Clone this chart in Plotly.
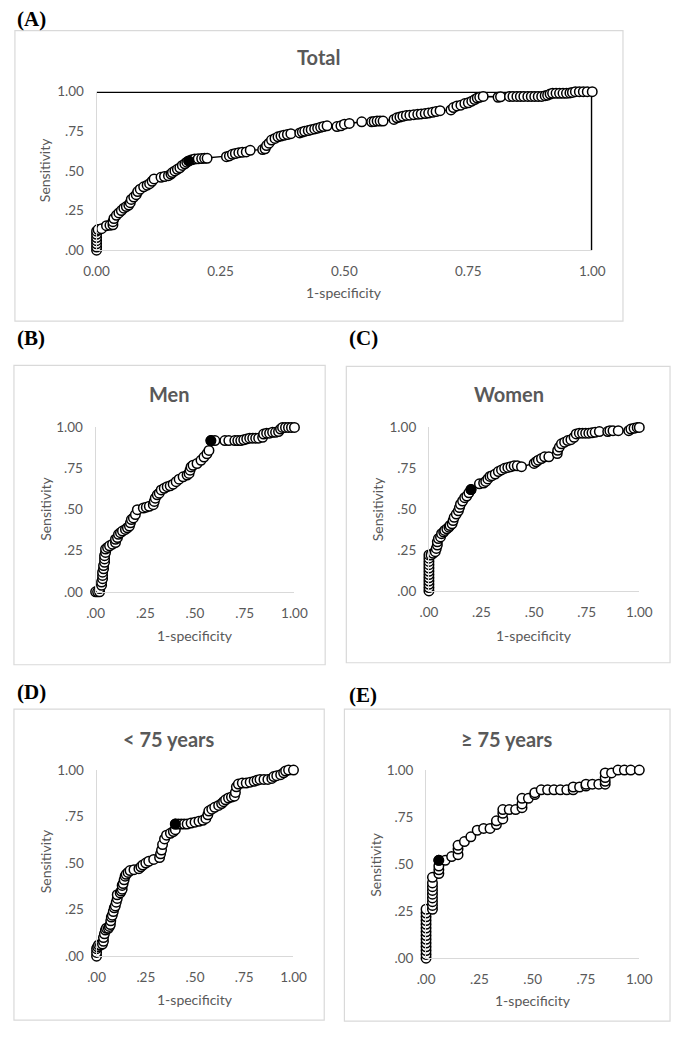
import plotly.graph_objects as go

# ---------------- data ----------------
total_roc = [(0,0),(0,0.02),(0,0.04),(0,0.06),(0,0.08),(0,0.1),(0,0.12),(0.003,0.13),
 (0.01,0.136),(0.02,0.155),(0.027,0.157),(0.033,0.16),(0.033,0.18),(0.035,0.2),(0.04,0.22),(0.045,0.235),
 (0.05,0.25),(0.055,0.265),(0.06,0.275),(0.065,0.285),(0.068,0.3),(0.07,0.32),(0.075,0.335),(0.08,0.35),
 (0.083,0.37),(0.088,0.385),(0.095,0.4),(0.102,0.41),(0.107,0.42),(0.112,0.435),(0.116,0.45),(0.13,0.46),
 (0.137,0.465),(0.145,0.47),(0.15,0.48),(0.153,0.49),(0.158,0.5),(0.163,0.51),(0.168,0.52),(0.173,0.535),
 (0.178,0.545),(0.182,0.555),(0.186,0.563),(0.192,0.57),(0.198,0.575),(0.205,0.577),(0.212,0.578),(0.218,0.58),
 (0.223,0.58),(0.262,0.59),(0.268,0.595),(0.274,0.605),(0.28,0.61),(0.287,0.615),(0.294,0.618),(0.302,0.62),
 (0.31,0.63),(0.335,0.635),(0.34,0.64),(0.343,0.66),(0.348,0.675),(0.353,0.695),(0.36,0.705),(0.366,0.715),
 (0.372,0.72),(0.378,0.725),(0.385,0.73),(0.392,0.735),(0.41,0.74),(0.415,0.745),(0.42,0.75),(0.427,0.755),
 (0.433,0.76),(0.44,0.765),(0.446,0.77),(0.452,0.775),(0.458,0.78),(0.465,0.785),(0.485,0.78),(0.493,0.785),
 (0.5,0.795),(0.51,0.8),(0.535,0.81),(0.555,0.81),(0.56,0.812),(0.566,0.815),(0.572,0.815),(0.578,0.815),
 (0.6,0.825),(0.606,0.835),(0.612,0.84),(0.618,0.845),(0.625,0.85),(0.632,0.852),(0.64,0.855),(0.648,0.857),
 (0.655,0.86),(0.663,0.862),(0.67,0.865),(0.678,0.87),(0.685,0.875),(0.693,0.88),(0.715,0.885),(0.72,0.9),
 (0.727,0.91),(0.735,0.915),(0.743,0.925),(0.75,0.93),(0.757,0.94),(0.763,0.95),(0.768,0.96),(0.773,0.965),
 (0.78,0.97),(0.81,0.965),(0.815,0.968),(0.833,0.97),(0.84,0.97),(0.848,0.97),(0.855,0.97),(0.862,0.97),
 (0.87,0.97),(0.877,0.97),(0.884,0.97),(0.891,0.97),(0.898,0.97),(0.905,0.975),(0.91,0.978),(0.915,0.985),
 (0.92,0.99),(0.927,0.99),(0.934,0.99),(0.941,0.99),(0.948,0.99),(0.955,0.992),(0.96,0.995),(0.966,1.0),
 (0.974,1.0),(0.982,1.0),(0.99,1.0),(1.0,1.0)]
total_cut = (0.186, 0.563)
total_ref_x = [0, 1, 1]
total_ref_y = [1, 1, 0]

men_roc = [(0,0),(0.01,0),(0.02,0),(0.02,0.02),(0.03,0.04),(0.03,0.06),(0.035,0.08),(0.035,0.1),(0.035,0.12),
 (0.04,0.14),(0.04,0.16),(0.045,0.18),(0.045,0.2),(0.045,0.22),(0.05,0.24),(0.05,0.26),(0.06,0.27),(0.07,0.28),
 (0.085,0.29),(0.1,0.3),(0.1,0.32),(0.11,0.33),(0.115,0.35),(0.125,0.36),(0.135,0.37),(0.15,0.38),(0.16,0.39),
 (0.17,0.4),(0.175,0.42),(0.18,0.44),(0.19,0.45),(0.2,0.47),(0.21,0.5),(0.24,0.51),(0.255,0.515),(0.27,0.52),
 (0.29,0.53),(0.295,0.55),(0.3,0.57),(0.31,0.59),(0.32,0.6),(0.33,0.62),(0.345,0.63),(0.36,0.64),(0.375,0.645),
 (0.39,0.655),(0.405,0.67),(0.42,0.685),(0.44,0.7),(0.46,0.71),(0.47,0.72),(0.475,0.74),(0.48,0.76),(0.49,0.77),
 (0.51,0.78),(0.53,0.8),(0.545,0.82),(0.56,0.84),(0.57,0.86),(0.58,0.92),(0.6,0.92),(0.65,0.92),(0.67,0.92),
 (0.7,0.92),(0.715,0.92),(0.73,0.92),(0.745,0.925),(0.76,0.93),(0.775,0.935),(0.79,0.935),(0.805,0.935),
 (0.82,0.935),(0.84,0.94),(0.845,0.96),(0.86,0.965),(0.875,0.965),(0.89,0.97),(0.905,0.97),(0.92,0.975),
 (0.93,0.99),(0.94,1.0),(0.955,1.0),(0.97,1.0),(0.985,1.0),(1.0,1.0)]
men_cut = (0.58, 0.92)

women_roc = [(0,0),(0,0.02),(0,0.04),(0,0.06),(0,0.08),(0,0.1),(0,0.12),(0,0.14),(0,0.16),(0,0.18),(0,0.2),
 (0,0.22),(0.01,0.22),(0.02,0.23),(0.03,0.24),(0.035,0.26),(0.04,0.28),(0.04,0.3),(0.045,0.32),(0.055,0.33),
 (0.06,0.35),(0.07,0.36),(0.075,0.37),(0.085,0.38),(0.095,0.39),(0.1,0.4),(0.11,0.41),(0.115,0.43),(0.12,0.45),
 (0.13,0.47),(0.14,0.49),(0.145,0.51),(0.15,0.53),(0.16,0.55),(0.17,0.57),(0.18,0.58),(0.19,0.6),(0.2,0.62),
 (0.24,0.655),(0.26,0.66),(0.27,0.67),(0.28,0.685),(0.29,0.7),(0.3,0.705),(0.315,0.715),(0.33,0.73),(0.345,0.74),
 (0.36,0.75),(0.375,0.755),(0.39,0.76),(0.405,0.765),(0.42,0.765),(0.44,0.76),(0.5,0.78),(0.51,0.79),(0.52,0.8),
 (0.535,0.81),(0.55,0.82),(0.57,0.82),(0.61,0.84),(0.612,0.86),(0.62,0.88),(0.63,0.9),(0.645,0.91),(0.66,0.92),
 (0.675,0.925),(0.69,0.94),(0.7,0.96),(0.715,0.965),(0.73,0.965),(0.745,0.965),(0.76,0.965),(0.775,0.967),
 (0.79,0.97),(0.81,0.975),(0.85,0.975),(0.86,0.98),(0.875,0.98),(0.9,0.98),(0.95,0.98),(0.96,0.99),
 (0.975,0.995),(0.99,1.0),(1.0,1.0)]
women_cut = (0.2, 0.62)

young_roc = [(0,0),(0,0.02),(0,0.04),(0.005,0.05),(0.01,0.06),(0.02,0.06),(0.03,0.065),(0.035,0.08),(0.035,0.1),
 (0.04,0.12),(0.045,0.14),(0.05,0.15),(0.06,0.15),(0.065,0.16),(0.07,0.17),(0.072,0.19),(0.075,0.21),(0.08,0.22),
 (0.085,0.24),(0.09,0.26),(0.095,0.27),(0.1,0.29),(0.105,0.31),(0.105,0.33),(0.12,0.34),(0.125,0.35),(0.13,0.36),
 (0.13,0.38),(0.135,0.39),(0.14,0.41),(0.145,0.43),(0.15,0.44),(0.16,0.45),(0.17,0.46),(0.19,0.465),(0.215,0.47),
 (0.225,0.48),(0.235,0.49),(0.25,0.5),(0.265,0.51),(0.29,0.52),(0.32,0.53),(0.325,0.55),(0.33,0.57),(0.335,0.6),
 (0.345,0.63),(0.355,0.65),(0.375,0.66),(0.39,0.67),(0.4,0.68),(0.4,0.71),(0.415,0.71),(0.43,0.71),(0.445,0.71),
 (0.46,0.71),(0.48,0.715),(0.5,0.72),(0.52,0.725),(0.54,0.73),(0.555,0.74),(0.565,0.76),(0.57,0.78),(0.585,0.79),
 (0.6,0.8),(0.62,0.81),(0.635,0.82),(0.645,0.83),(0.655,0.84),(0.67,0.85),(0.685,0.855),(0.7,0.86),(0.705,0.88),
 (0.71,0.91),(0.72,0.925),(0.74,0.93),(0.76,0.93),(0.78,0.935),(0.8,0.94),(0.815,0.945),(0.83,0.95),(0.85,0.95),
 (0.87,0.95),(0.89,0.955),(0.9,0.965),(0.915,0.97),(0.935,0.975),(0.95,0.985),(0.96,0.995),(0.975,1.0),(1.0,1.0)]
young_cut = (0.4, 0.71)

old_roc = [(0,0),(0,0.02),(0,0.04),(0,0.06),(0,0.08),(0,0.1),(0,0.12),(0,0.14),(0,0.16),(0,0.18),(0,0.2),
 (0,0.22),(0,0.24),(0,0.26),(0.03,0.26),(0.03,0.28),(0.03,0.3),(0.03,0.32),(0.03,0.34),(0.03,0.36),(0.03,0.38),
 (0.03,0.4),(0.03,0.43),(0.06,0.45),(0.06,0.47),(0.06,0.49),(0.06,0.52),(0.09,0.52),(0.12,0.54),(0.15,0.55),
 (0.15,0.58),(0.15,0.6),(0.18,0.62),(0.21,0.645),(0.24,0.68),(0.27,0.69),(0.3,0.69),(0.33,0.71),(0.33,0.73),
 (0.36,0.74),(0.36,0.77),(0.36,0.79),(0.39,0.79),(0.42,0.79),(0.45,0.8),(0.45,0.82),(0.45,0.85),(0.48,0.85),
 (0.51,0.87),(0.51,0.88),(0.54,0.895),(0.57,0.895),(0.6,0.895),(0.63,0.895),(0.66,0.895),(0.69,0.895),(0.69,0.91),
 (0.72,0.91),(0.75,0.915),(0.75,0.925),(0.78,0.925),(0.81,0.925),(0.84,0.925),(0.84,0.94),(0.84,0.96),
 (0.84,0.985),(0.87,0.985),(0.9,1.0),(0.93,1.0),(0.96,1.0),(1.0,1.0)]
old_cut = (0.06, 0.52)

tick_vals = [0, 0.25, 0.5, 0.75, 1.0]
tick_text_a_x = ["0.00", "0.25", "0.50", "0.75", "1.00"]
tick_text = [".00", ".25", ".50", ".75", "1.00"]

titles = ["Total", "Men", "Women", "< 75 years", "≥ 75 years"]
labels = ["(A)", "(B)", "(C)", "(D)", "(E)"]
x_title = "1-specificity"
y_title = "Sensitivity"

# ---------------- layout geometry (pixels) ----------------
W, H = 685, 1039
def px(x): return x / W
def py(y): return 1 - y / H

panels = [
    dict(roc=total_roc, cut=total_cut, plot=(87, 603, 85, 246), box=(2, 23, 635, 318),
         title=(318, 50), xt=(345, 289), yt=(33, 165), lab=(2, 11), xticks=tick_text_a_x),
    dict(roc=men_roc, cut=men_cut, plot=(86, 293, 426, 593), box=(1, 363, 325, 667),
         title=(163, 392), xt=(189.5, 637), yt=(33, 509), lab=(2, 335), xticks=tick_text),
    dict(roc=women_roc, cut=women_cut, plot=(433, 652, 426, 592), box=(347, 364, 684, 665),
         title=(516, 392), xt=(542.5, 637), yt=(379, 509), lab=(348, 335), xticks=tick_text),
    dict(roc=young_roc, cut=young_cut, plot=(87, 292, 774, 963), box=(1, 712, 324, 1028),
         title=(162, 742), xt=(189.5, 1007), yt=(34, 867), lab=(2, 695), xticks=tick_text),
    dict(roc=old_roc, cut=old_cut, plot=(430, 652, 774, 965), box=(345, 712, 684, 1029),
         title=(514, 742), xt=(541, 1008), yt=(377, 870), lab=(348, 698), xticks=tick_text),
]

GREY = "#595959"
AXIS = "#d9d9d9"
FONT = "Lato"
MSIZE = 9.5

fig = go.Figure()
layout = dict(width=W, height=H, margin=dict(l=0, r=0, t=0, b=0),
              paper_bgcolor="white", plot_bgcolor="white", showlegend=False)
annotations = []
shapes = []

for i, p in enumerate(panels):
    n = "" if i == 0 else str(i + 1)
    xa, ya = "x" + n, "y" + n
    fpr = [v[0] for v in p["roc"]]
    tpr = [v[1] for v in p["roc"]]
    if i == 0:
        fig.add_trace(go.Scatter(x=total_ref_x, y=total_ref_y, mode="lines",
                                 line=dict(color="black", width=2.8), xaxis=xa, yaxis=ya,
                                 cliponaxis=False, hoverinfo="skip"))
    fig.add_trace(go.Scatter(x=fpr, y=tpr, mode="lines+markers", xaxis=xa, yaxis=ya,
                             line=dict(color="black", width=1.4),
                             marker=dict(size=MSIZE, color="white", line=dict(color="black", width=1.5)),
                             cliponaxis=False))
    fig.add_trace(go.Scatter(x=[p["cut"][0]], y=[p["cut"][1]], mode="markers", xaxis=xa, yaxis=ya,
                             marker=dict(size=MSIZE, color="black", line=dict(color="black", width=1.5)),
                             cliponaxis=False))
    x0, x1, yt_, yb_ = p["plot"]
    common = dict(range=[0, 1], showgrid=False, zeroline=False, showline=True, linecolor=AXIS,
                  linewidth=1, ticks="", tickvals=tick_vals, ticklabelstandoff=9,
                  tickfont=dict(family=FONT, size=13.5, color=GREY), fixedrange=True)
    layout["xaxis" + n] = dict(domain=[px(x0), px(x1)], anchor=ya, ticktext=p["xticks"], **common)
    layout["yaxis" + n] = dict(domain=[py(yb_), py(yt_)], anchor=xa, ticktext=tick_text, **common)

    l, t, r, b = p["box"]
    shapes.append(dict(type="rect", xref="paper", yref="paper", x0=px(l), x1=px(r), y0=py(b), y1=py(t),
                       line=dict(color=AXIS, width=1.2), layer="below"))
    annotations.append(dict(text="<b>" + titles[i] + "</b>", x=px(p["title"][0]), y=py(p["title"][1]),
                            xref="paper", yref="paper", xanchor="center", yanchor="middle", showarrow=False,
                            font=dict(family=FONT, size=20, color=GREY)))
    annotations.append(dict(text=x_title, x=px(p["xt"][0]), y=py(p["xt"][1]), xref="paper", yref="paper",
                            xanchor="center", yanchor="middle", showarrow=False,
                            font=dict(family=FONT, size=14, color=GREY)))
    annotations.append(dict(text=y_title, x=px(p["yt"][0]), y=py(p["yt"][1]), xref="paper", yref="paper",
                            xanchor="center", yanchor="middle", showarrow=False, textangle=-90,
                            font=dict(family=FONT, size=14, color=GREY)))
    annotations.append(dict(text="<b>" + labels[i] + "</b>", x=px(p["lab"][0]), y=py(p["lab"][1]),
                            xref="paper", yref="paper", xanchor="left", yanchor="middle", showarrow=False,
                            font=dict(family="Liberation Serif", size=21, color="black")))

layout["annotations"] = annotations
layout["shapes"] = shapes
layout["hovermode"] = False
fig.update_layout(**layout)
fig.write_html("out.html", config={"displayModeBar": False, "staticPlot": True},
               post_script="document.body.style.margin='0';document.body.style.overflow='hidden';")
